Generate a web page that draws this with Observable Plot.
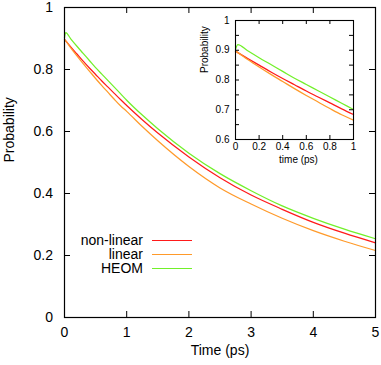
<!DOCTYPE html>
<html><head><meta charset="utf-8">
<script src="https://cdn.jsdelivr.net/npm/d3@7"></script>
<script src="https://cdn.jsdelivr.net/npm/@observablehq/plot@0.6"></script>
<style>
body{margin:0;background:#fff;}
#wrap{position:relative;width:381px;height:365px;font-family:"Liberation Sans",Arial,Helvetica,sans-serif;color:#000;}
#wrap svg{position:absolute;}
.lg{position:absolute;left:0;width:143px;text-align:right;font-size:14px;line-height:13px;height:13px;white-space:nowrap;}
.ll{position:absolute;left:152px;width:40px;height:1px;}
</style></head><body><div id="wrap"></div>
<script>
const times     = [0, 0.02, 0.1, 0.2, 0.3, 0.4, 0.5, 0.6, 0.7, 0.8, 0.9, 1, 1.25, 1.5, 2, 2.5, 3, 3.5, 4, 4.5, 5];
const nonLinear = [0.897,0.892,0.873,0.850,0.827,0.805,0.784,0.763,0.743,0.723,0.703,0.684,0.638,0.595,0.518,0.451,0.395,0.349,0.307,0.272,0.241];
const linear    = [0.897,0.892,0.870,0.844,0.819,0.795,0.771,0.748,0.726,0.704,0.683,0.665,0.616,0.570,0.487,0.418,0.366,0.320,0.280,0.246,0.216];
const heom      = [0.903,0.919,0.899,0.875,0.852,0.829,0.806,0.785,0.764,0.743,0.722,0.701,0.653,0.609,0.530,0.464,0.409,0.360,0.320,0.285,0.254];
const seriesNames  = ["non-linear", "linear", "HEOM"];
const seriesColors = ["#ff1a1a", "#ff9a2a", "#72f02a"];
const mainXTicks  = [0, 1, 2, 3, 4, 5];
const mainYTicks  = [0, 0.2, 0.4, 0.6, 0.8, 1];
const insetXTicks = [0, 0.2, 0.4, 0.6, 0.8, 1];
const insetYTicks = [0.6, 0.65, 0.7, 0.75, 0.8, 0.85, 0.9, 0.95, 1];
const insetYLabels = [0.6, 0.7, 0.8, 0.9, 1];
const mainXLabel = "Time (ps)", mainYLabel = "Probability";
const insetXLabel = "time (ps)", insetYLabel = "Probability";

const rows = [];
[nonLinear, linear, heom].forEach((vals, i) =>
  times.forEach((t, j) => rows.push({t, p: vals[j], s: seriesNames[i]})));
const insetRows = rows.filter(d => d.t <= 1);
const fmt = d => String(d);
const font = '"Liberation Sans",Arial,Helvetica,sans-serif';

const main = Plot.plot({
  width: 381, height: 365,
  marginLeft: 64, marginRight: 6, marginTop: 7, marginBottom: 48,
  style: {fontFamily: font, fontSize: "14px", color: "#000", background: "transparent", overflow: "visible"},
  x: {domain: [0, 5], label: null},
  y: {domain: [0, 1], label: null},
  color: {domain: seriesNames, range: seriesColors},
  marks: [
    Plot.line(rows, {x: "t", y: "p", z: "s", stroke: "s", strokeWidth: 1.25, curve: "monotone-x"}),
    Plot.tickX(mainXTicks, {x: d => d, insetTop: 304, stroke: "#000"}),
    Plot.tickX(mainXTicks, {x: d => d, insetBottom: 304, stroke: "#000"}),
    Plot.tickY(mainYTicks, {y: d => d, insetRight: 305, stroke: "#000"}),
    Plot.tickY(mainYTicks, {y: d => d, insetLeft: 305, stroke: "#000"}),
    Plot.axisX(mainXTicks, {tickSize: 0, tickPadding: 10, tickFormat: fmt, label: null, fontSize: 14}),
    Plot.axisY(mainYTicks, {tickSize: 0, tickPadding: 11.5, tickFormat: fmt, label: null, fontSize: 14}),
    Plot.frame({stroke: "#000", strokeWidth: 1.2}),
    Plot.text([mainXLabel], {frameAnchor: "bottom", dy: 37, fontSize: 14, text: d => d}),
    Plot.text([mainYLabel], {frameAnchor: "left", rotate: -90, dx: -55, fontSize: 14, text: d => d})
  ]
});
main.style.left = "0px"; main.style.top = "0px";

const inset = Plot.plot({
  width: 165, height: 156,
  marginLeft: 40, marginRight: 7, marginTop: 8, marginBottom: 29,
  style: {fontFamily: font, fontSize: "10px", color: "#000", background: "transparent", overflow: "visible"},
  x: {domain: [0, 1], label: null},
  y: {domain: [0.6, 1], label: null},
  color: {domain: seriesNames, range: seriesColors},
  marks: [
    Plot.line(insetRows, {x: "t", y: "p", z: "s", stroke: "s", strokeWidth: 1.25, curve: "monotone-x"}),
    Plot.tickX(insetXTicks, {x: d => d, insetTop: 115, stroke: "#000"}),
    Plot.tickX(insetXTicks, {x: d => d, insetBottom: 115, stroke: "#000"}),
    Plot.tickY(insetYTicks, {y: d => d, insetRight: 114, stroke: "#000"}),
    Plot.tickY(insetYTicks, {y: d => d, insetLeft: 114, stroke: "#000"}),
    Plot.axisX(insetXTicks, {tickSize: 0, tickPadding: 3, tickFormat: fmt, label: null, fontSize: 10}),
    Plot.axisY(insetYLabels, {tickSize: 0, tickPadding: 6, tickFormat: fmt, label: null, fontSize: 10}),
    Plot.frame({stroke: "#000", strokeWidth: 1.1}),
    Plot.text([insetXLabel], {frameAnchor: "bottom", dy: 23, dx: 4, fontSize: 10, text: d => d}),
    Plot.text([insetYLabel], {frameAnchor: "left", rotate: -90, dx: -31, dy: -7, fontSize: 10, text: d => d})
  ]
});
inset.style.left = "195px"; inset.style.top = "12px";

const wrap = document.getElementById("wrap");
wrap.appendChild(main);
wrap.appendChild(inset);

const legendRowsY = [240, 254, 268];
seriesNames.forEach((name, i) => {
  const t = document.createElement("div");
  t.className = "lg"; t.textContent = name;
  t.style.top = (legendRowsY[i] - 6.5) + "px";
  wrap.appendChild(t);
  const l = document.createElement("div");
  l.className = "ll"; l.style.background = seriesColors[i];
  l.style.top = legendRowsY[i] + "px";
  wrap.appendChild(l);
});
</script></body></html>
